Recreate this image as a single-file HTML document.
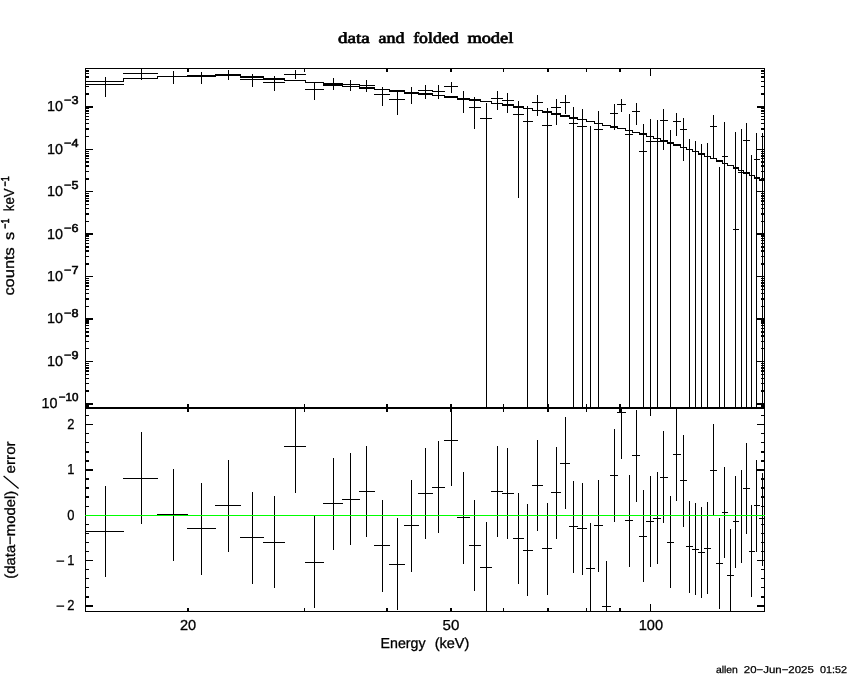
<!DOCTYPE html><html><head><meta charset="utf-8"><title>data and folded model</title><style>html,body{margin:0;padding:0;background:#fff}svg{display:block;will-change:transform}</style></head><body><svg width="850" height="680" viewBox="0 0 850 680" shape-rendering="crispEdges">
<rect x="0" y="0" width="850" height="680" fill="#fff"/>
<path fill="#000" d="M85 81h39v1h-39zM123 78h1v4h-1zM123 78h35v1h-35zM157 76h1v3h-1zM157 76h31v1h-31zM187 75h1v2h-1zM187 75h29v2h-29zM215 74h1v3h-1zM215 74h26v2h-26zM240 74h1v4h-1zM240 76h24v2h-24zM263 76h1v4h-1zM263 78h22v2h-22zM284 78h1v3h-1zM284 80h22v1h-22zM305 80h1v3h-1zM305 82h19v1h-19zM323 82h1v3h-1zM323 83h20v2h-20zM342 83h1v4h-1zM342 86h18v1h-18zM359 86h1v3h-1zM359 87h16v2h-16zM374 87h1v3h-1zM374 89h16v1h-16zM389 89h1v3h-1zM389 90h16v2h-16zM404 90h1v4h-1zM404 92h15v2h-15zM418 92h1v3h-1zM418 93h15v2h-15zM432 93h1v3h-1zM432 95h13v1h-13zM444 95h1v3h-1zM444 96h14v2h-14zM457 96h1v4h-1zM457 98h13v2h-13zM469 98h1v3h-1zM469 99h12v2h-12zM480 99h1v3h-1zM480 101h12v1h-12zM491 101h1v3h-1zM491 103h12v1h-12zM502 103h1v3h-1zM502 104h12v2h-12zM513 104h1v4h-1zM513 106h11v2h-11zM523 106h1v3h-1zM523 108h10v1h-10zM532 108h1v3h-1zM532 110h11v1h-11zM542 110h1v3h-1zM542 111h10v2h-10zM551 111h1v4h-1zM551 113h10v2h-10zM560 113h1v4h-1zM560 115h10v2h-10zM569 115h1v4h-1zM569 117h9v2h-9zM577 117h1v3h-1zM577 119h10v1h-10zM586 119h1v3h-1zM586 121h9v1h-9zM594 121h1v3h-1zM594 123h9v1h-9zM602 123h1v3h-1zM602 125h9v1h-9zM610 125h1v3h-1zM610 126h8v2h-8zM617 126h1v3h-1zM617 128h9v1h-9zM625 128h1v3h-1zM625 130h8v1h-8zM632 130h1v3h-1zM632 132h8v1h-8zM639 132h1v3h-1zM639 133h8v2h-8zM646 133h1v4h-1zM646 136h8v1h-8zM653 136h1v3h-1zM653 138h8v1h-8zM660 138h1v4h-1zM660 140h8v2h-8zM667 140h1v4h-1zM667 142h7v2h-7zM673 142h1v4h-1zM673 144h8v2h-8zM680 144h1v4h-1zM680 147h7v1h-7zM686 147h1v3h-1zM686 149h7v1h-7zM692 149h1v3h-1zM692 151h7v1h-7zM698 151h1v4h-1zM698 153h7v2h-7zM704 153h1v4h-1zM704 156h7v1h-7zM710 156h1v3h-1zM710 158h7v1h-7zM716 158h1v4h-1zM716 160h7v2h-7zM722 160h1v4h-1zM722 163h6v1h-6zM727 163h1v3h-1zM727 165h7v1h-7zM733 165h1v4h-1zM733 167h6v2h-6zM738 167h1v4h-1zM738 170h6v1h-6zM743 170h1v4h-1zM743 172h7v2h-7zM749 172h1v4h-1zM749 175h6v1h-6zM754 175h1v4h-1zM754 177h6v2h-6zM759 177h1v4h-1zM759 179h6v2h-6zM85 84h39v1h-39zM105 77h1v20h-1zM123 73h35v1h-35zM141 68h1v12h-1zM157 76h31v1h-31zM173 71h1v13h-1zM187 75h29v1h-29zM201 72h1v12h-1zM215 74h26v1h-26zM228 70h1v10h-1zM240 79h24v1h-24zM252 74h1v13h-1zM263 82h22v1h-22zM274 76h1v15h-1zM284 74h22v1h-22zM295 70h1v9h-1zM305 89h19v1h-19zM314 82h1v18h-1zM323 85h20v1h-20zM333 78h1v12h-1zM342 84h18v1h-18zM350 80h1v11h-1zM359 85h16v1h-16zM366 80h1v12h-1zM374 94h16v1h-16zM382 87h1v19h-1zM389 99h16v1h-16zM397 92h1v23h-1zM404 93h15v1h-15zM411 87h1v17h-1zM418 90h15v1h-15zM425 85h1v14h-1zM432 91h13v1h-13zM438 85h1v14h-1zM444 86h14v1h-14zM451 82h1v11h-1zM457 98h13v1h-13zM463 91h1v22h-1zM469 107h12v1h-12zM474 97h1v32h-1zM480 118h12v1h-12zM486 103h1v305h-1zM491 98h12v1h-12zM497 91h1v19h-1zM502 100h12v1h-12zM507 93h1v20h-1zM513 114h11v1h-11zM518 101h1v97h-1zM523 121h10v1h-10zM527 106h1v302h-1zM532 102h11v1h-11zM537 95h1v21h-1zM542 125h10v1h-10zM547 108h1v300h-1zM551 107h10v1h-10zM556 99h1v26h-1zM560 102h10v1h-10zM565 95h1v19h-1zM569 123h9v1h-9zM573 107h1v301h-1zM577 126h10v1h-10zM582 109h1v299h-1zM590 126h1v282h-1zM594 129h9v1h-9zM598 111h1v297h-1zM610 113h8v1h-8zM614 104h1v26h-1zM617 104h9v1h-9zM621 99h1v13h-1zM625 134h8v1h-8zM629 114h1v294h-1zM632 111h8v1h-8zM636 103h1v22h-1zM639 151h8v1h-8zM643 124h1v284h-1zM646 141h8v1h-8zM650 119h1v289h-1zM653 141h8v1h-8zM657 120h1v288h-1zM660 120h8v1h-8zM663 109h1v41h-1zM670 130h1v278h-1zM673 121h8v1h-8zM676 113h1v23h-1zM680 129h7v1h-7zM683 118h1v43h-1zM689 139h1v269h-1zM695 141h1v267h-1zM701 144h1v264h-1zM707 143h1v265h-1zM710 126h7v1h-7zM713 115h1v44h-1zM719 167h1v241h-1zM722 156h6v1h-6zM724 122h1v286h-1zM733 229h6v1h-6zM735 132h1v276h-1zM738 172h6v1h-6zM741 129h1v279h-1zM743 140h7v1h-7zM746 123h1v285h-1zM751 155h1v253h-1zM754 159h6v1h-6zM756 133h1v275h-1zM762 133h1v275h-1zM85 531h39v1h-39zM105 486h1v91h-1zM123 478h35v1h-35zM141 432h1v92h-1zM157 514h31v1h-31zM173 469h1v92h-1zM187 528h29v1h-29zM201 483h1v92h-1zM215 505h26v1h-26zM228 460h1v92h-1zM240 537h24v1h-24zM252 492h1v92h-1zM263 542h22v1h-22zM274 496h1v92h-1zM284 446h22v1h-22zM295 408h1v85h-1zM305 562h19v1h-19zM314 516h1v92h-1zM323 503h20v1h-20zM333 458h1v92h-1zM342 499h18v1h-18zM350 453h1v92h-1zM359 491h16v1h-16zM366 446h1v91h-1zM374 545h16v1h-16zM382 500h1v92h-1zM389 564h16v1h-16zM397 518h1v92h-1zM404 525h15v1h-15zM411 480h1v92h-1zM418 493h15v1h-15zM425 448h1v91h-1zM432 487h13v1h-13zM438 441h1v92h-1zM444 440h14v1h-14zM451 408h1v78h-1zM457 517h13v1h-13zM463 472h1v92h-1zM469 545h12v1h-12zM474 500h1v91h-1zM480 567h12v1h-12zM486 522h1v90h-1zM491 491h12v1h-12zM497 446h1v91h-1zM502 493h12v1h-12zM507 448h1v91h-1zM513 538h11v1h-11zM518 493h1v91h-1zM523 550h10v1h-10zM527 504h1v92h-1zM532 485h11v1h-11zM537 440h1v91h-1zM542 548h10v1h-10zM547 503h1v92h-1zM551 492h10v1h-10zM556 447h1v92h-1zM560 463h10v1h-10zM565 417h1v92h-1zM569 526h9v1h-9zM573 481h1v92h-1zM577 528h10v1h-10zM582 483h1v92h-1zM586 568h9v1h-9zM590 523h1v89h-1zM594 525h9v1h-9zM598 480h1v92h-1zM602 606h9v1h-9zM606 561h1v51h-1zM610 475h8v1h-8zM614 429h1v93h-1zM617 412h9v1h-9zM621 408h1v51h-1zM625 520h8v1h-8zM629 475h1v92h-1zM632 455h8v1h-8zM636 410h1v92h-1zM639 536h8v1h-8zM643 490h1v92h-1zM646 521h8v1h-8zM650 476h1v91h-1zM653 518h8v1h-8zM657 472h1v92h-1zM660 477h8v1h-8zM663 431h1v92h-1zM667 542h7v1h-7zM670 496h1v92h-1zM673 454h8v1h-8zM676 408h1v93h-1zM680 480h7v1h-7zM683 435h1v92h-1zM686 546h7v1h-7zM689 501h1v92h-1zM692 549h7v1h-7zM695 503h1v92h-1zM698 552h7v1h-7zM701 507h1v91h-1zM704 548h7v1h-7zM707 502h1v92h-1zM710 470h7v1h-7zM713 424h1v92h-1zM716 563h7v1h-7zM719 518h1v91h-1zM722 512h6v1h-6zM724 467h1v91h-1zM727 575h7v1h-7zM730 529h1v83h-1zM733 521h6v1h-6zM735 476h1v92h-1zM738 515h6v1h-6zM741 470h1v93h-1zM743 488h7v1h-7zM746 443h1v91h-1zM749 551h6v1h-6zM751 505h1v92h-1zM754 505h6v1h-6zM756 460h1v92h-1zM759 518h6v1h-6zM762 473h1v93h-1zM85 68h680v1h-680zM85 407h680v1h-680zM85 408h680v1h-680zM85 611h680v1h-680zM85 68h1v544h-1zM764 68h1v544h-1zM187 69h2v3h-2zM187 404h2v3h-2zM187 409h2v3h-2zM187 608h2v3h-2zM304 69h1v3h-1zM304 404h1v3h-1zM304 409h1v3h-1zM304 608h1v3h-1zM386 69h2v3h-2zM386 404h2v3h-2zM386 409h2v3h-2zM386 608h2v3h-2zM450 69h2v3h-2zM450 404h2v3h-2zM450 409h2v3h-2zM450 608h2v3h-2zM503 69h1v3h-1zM503 404h1v3h-1zM503 409h1v3h-1zM503 608h1v3h-1zM547 69h2v3h-2zM547 404h2v3h-2zM547 409h2v3h-2zM547 608h2v3h-2zM586 69h1v3h-1zM586 404h1v3h-1zM586 409h1v3h-1zM586 608h1v3h-1zM619 69h2v3h-2zM619 404h2v3h-2zM619 409h2v3h-2zM619 608h2v3h-2zM650 69h1v7h-1zM650 400h1v7h-1zM650 409h1v7h-1zM650 604h1v7h-1zM86 106h7v2h-7zM757 106h7v2h-7zM86 93h3v2h-3zM761 93h3v2h-3zM86 86h3v1h-3zM761 86h3v1h-3zM86 81h3v1h-3zM761 81h3v1h-3zM86 76h3v2h-3zM761 76h3v2h-3zM86 73h3v1h-3zM761 73h3v1h-3zM86 70h3v2h-3zM761 70h3v2h-3zM86 149h7v1h-7zM757 149h7v1h-7zM86 136h3v1h-3zM761 136h3v1h-3zM86 128h3v2h-3zM761 128h3v2h-3zM86 123h3v1h-3zM761 123h3v1h-3zM86 119h3v1h-3zM761 119h3v1h-3zM86 116h3v1h-3zM761 116h3v1h-3zM86 113h3v1h-3zM761 113h3v1h-3zM86 110h3v2h-3zM761 110h3v2h-3zM86 108h3v1h-3zM761 108h3v1h-3zM86 191h7v1h-7zM757 191h7v1h-7zM86 178h3v2h-3zM761 178h3v2h-3zM86 171h3v1h-3zM761 171h3v1h-3zM86 165h3v2h-3zM761 165h3v2h-3zM86 161h3v2h-3zM761 161h3v2h-3zM86 158h3v1h-3zM761 158h3v1h-3zM86 155h3v2h-3zM761 155h3v2h-3zM86 153h3v1h-3zM761 153h3v1h-3zM86 151h3v1h-3zM761 151h3v1h-3zM86 233h7v2h-7zM757 233h7v2h-7zM86 221h3v1h-3zM761 221h3v1h-3zM86 213h3v2h-3zM761 213h3v2h-3zM86 208h3v1h-3zM761 208h3v1h-3zM86 204h3v1h-3zM761 204h3v1h-3zM86 200h3v2h-3zM761 200h3v2h-3zM86 198h3v1h-3zM761 198h3v1h-3zM86 195h3v2h-3zM761 195h3v2h-3zM86 193h3v1h-3zM761 193h3v1h-3zM86 276h7v1h-7zM757 276h7v1h-7zM86 263h3v2h-3zM761 263h3v2h-3zM86 256h3v1h-3zM761 256h3v1h-3zM86 250h3v2h-3zM761 250h3v2h-3zM86 246h3v2h-3zM761 246h3v2h-3zM86 243h3v1h-3zM761 243h3v1h-3zM86 240h3v1h-3zM761 240h3v1h-3zM86 238h3v1h-3zM761 238h3v1h-3zM86 235h3v2h-3zM761 235h3v2h-3zM86 318h7v2h-7zM757 318h7v2h-7zM86 306h3v1h-3zM761 306h3v1h-3zM86 298h3v2h-3zM761 298h3v2h-3zM86 293h3v1h-3zM761 293h3v1h-3zM86 289h3v1h-3zM761 289h3v1h-3zM86 285h3v2h-3zM761 285h3v2h-3zM86 282h3v2h-3zM761 282h3v2h-3zM86 280h3v1h-3zM761 280h3v1h-3zM86 278h3v1h-3zM761 278h3v1h-3zM86 361h7v1h-7zM757 361h7v1h-7zM86 348h3v1h-3zM761 348h3v1h-3zM86 341h3v1h-3zM761 341h3v1h-3zM86 335h3v2h-3zM761 335h3v2h-3zM86 331h3v2h-3zM761 331h3v2h-3zM86 328h3v1h-3zM761 328h3v1h-3zM86 325h3v1h-3zM761 325h3v1h-3zM86 322h3v2h-3zM761 322h3v2h-3zM86 320h3v2h-3zM761 320h3v2h-3zM86 403h7v2h-7zM757 403h7v2h-7zM86 390h3v2h-3zM761 390h3v2h-3zM86 383h3v1h-3zM761 383h3v1h-3zM86 378h3v1h-3zM761 378h3v1h-3zM86 374h3v1h-3zM761 374h3v1h-3zM86 370h3v2h-3zM761 370h3v2h-3zM86 367h3v2h-3zM761 367h3v2h-3zM86 365h3v1h-3zM761 365h3v1h-3zM86 363h3v1h-3zM761 363h3v1h-3zM86 405h3v2h-3zM761 405h3v2h-3zM86 605h7v2h-7zM757 605h7v2h-7zM86 596h3v2h-3zM761 596h3v2h-3zM86 587h3v1h-3zM761 587h3v1h-3zM86 578h3v1h-3zM761 578h3v1h-3zM86 569h3v1h-3zM761 569h3v1h-3zM86 560h7v1h-7zM757 560h7v1h-7zM86 551h3v1h-3zM761 551h3v1h-3zM86 542h3v1h-3zM761 542h3v1h-3zM86 533h3v1h-3zM761 533h3v1h-3zM86 524h3v1h-3zM761 524h3v1h-3zM86 515h7v1h-7zM757 515h7v1h-7zM86 506h3v1h-3zM761 506h3v1h-3zM86 496h3v2h-3zM761 496h3v2h-3zM86 487h3v2h-3zM761 487h3v2h-3zM86 478h3v2h-3zM761 478h3v2h-3zM86 469h7v2h-7zM757 469h7v2h-7zM86 460h3v2h-3zM761 460h3v2h-3zM86 451h3v2h-3zM761 451h3v2h-3zM86 442h3v1h-3zM761 442h3v1h-3zM86 433h3v1h-3zM761 433h3v1h-3zM86 424h7v1h-7zM757 424h7v1h-7zM86 415h3v1h-3zM761 415h3v1h-3z"/>
<path fill="#00ff00" d="M85 515h680v1h-680z"/>
<g fill="#000" stroke="#000" stroke-width="0.3" text-rendering="geometricPrecision">
<text x="338" y="43" font-family='"Liberation Serif", serif' font-size="15.5" font-weight="normal" text-anchor="start" textLength="31.7" lengthAdjust="spacingAndGlyphs" stroke-width="0.7">data</text>
<text x="378.6" y="43" font-family='"Liberation Serif", serif' font-size="15.5" font-weight="normal" text-anchor="start" textLength="26" lengthAdjust="spacingAndGlyphs" stroke-width="0.7">and</text>
<text x="413.2" y="43" font-family='"Liberation Serif", serif' font-size="15.5" font-weight="normal" text-anchor="start" textLength="45.4" lengthAdjust="spacingAndGlyphs" stroke-width="0.7">folded</text>
<text x="467.4" y="43" font-family='"Liberation Serif", serif' font-size="15.5" font-weight="normal" text-anchor="start" textLength="45.9" lengthAdjust="spacingAndGlyphs" stroke-width="0.7">model</text>
<text x="64.1" y="104.2" font-family='"Liberation Sans", sans-serif' font-size="11.5" font-weight="normal" text-anchor="start" textLength="14.4" lengthAdjust="spacingAndGlyphs" stroke-width="0.55">−3</text>
<text x="46.89999999999999" y="111.1" font-family='"Liberation Sans", sans-serif' font-size="14.5" font-weight="normal" text-anchor="start" textLength="16" lengthAdjust="spacingAndGlyphs">10</text>
<text x="64.1" y="146.7" font-family='"Liberation Sans", sans-serif' font-size="11.5" font-weight="normal" text-anchor="start" textLength="14.4" lengthAdjust="spacingAndGlyphs" stroke-width="0.55">−4</text>
<text x="46.89999999999999" y="153.6" font-family='"Liberation Sans", sans-serif' font-size="14.5" font-weight="normal" text-anchor="start" textLength="16" lengthAdjust="spacingAndGlyphs">10</text>
<text x="64.1" y="189.1" font-family='"Liberation Sans", sans-serif' font-size="11.5" font-weight="normal" text-anchor="start" textLength="14.4" lengthAdjust="spacingAndGlyphs" stroke-width="0.55">−5</text>
<text x="46.89999999999999" y="196.0" font-family='"Liberation Sans", sans-serif' font-size="14.5" font-weight="normal" text-anchor="start" textLength="16" lengthAdjust="spacingAndGlyphs">10</text>
<text x="64.1" y="231.6" font-family='"Liberation Sans", sans-serif' font-size="11.5" font-weight="normal" text-anchor="start" textLength="14.4" lengthAdjust="spacingAndGlyphs" stroke-width="0.55">−6</text>
<text x="46.89999999999999" y="238.5" font-family='"Liberation Sans", sans-serif' font-size="14.5" font-weight="normal" text-anchor="start" textLength="16" lengthAdjust="spacingAndGlyphs">10</text>
<text x="64.1" y="274.0" font-family='"Liberation Sans", sans-serif' font-size="11.5" font-weight="normal" text-anchor="start" textLength="14.4" lengthAdjust="spacingAndGlyphs" stroke-width="0.55">−7</text>
<text x="46.89999999999999" y="280.9" font-family='"Liberation Sans", sans-serif' font-size="14.5" font-weight="normal" text-anchor="start" textLength="16" lengthAdjust="spacingAndGlyphs">10</text>
<text x="64.1" y="316.5" font-family='"Liberation Sans", sans-serif' font-size="11.5" font-weight="normal" text-anchor="start" textLength="14.4" lengthAdjust="spacingAndGlyphs" stroke-width="0.55">−8</text>
<text x="46.89999999999999" y="323.4" font-family='"Liberation Sans", sans-serif' font-size="14.5" font-weight="normal" text-anchor="start" textLength="16" lengthAdjust="spacingAndGlyphs">10</text>
<text x="64.1" y="358.9" font-family='"Liberation Sans", sans-serif' font-size="11.5" font-weight="normal" text-anchor="start" textLength="14.4" lengthAdjust="spacingAndGlyphs" stroke-width="0.55">−9</text>
<text x="46.89999999999999" y="365.8" font-family='"Liberation Sans", sans-serif' font-size="14.5" font-weight="normal" text-anchor="start" textLength="16" lengthAdjust="spacingAndGlyphs">10</text>
<text x="58.8" y="401.4" font-family='"Liberation Sans", sans-serif' font-size="11.5" font-weight="normal" text-anchor="start" textLength="19.7" lengthAdjust="spacingAndGlyphs" stroke-width="0.55">−10</text>
<text x="41.599999999999994" y="408.3" font-family='"Liberation Sans", sans-serif' font-size="14.5" font-weight="normal" text-anchor="start" textLength="16" lengthAdjust="spacingAndGlyphs">10</text>
<text x="67.2" y="429.0" font-family='"Liberation Sans", sans-serif' font-size="14.5" font-weight="normal" text-anchor="start" textLength="7.2" lengthAdjust="spacingAndGlyphs">2</text>
<text x="67.2" y="474.3" font-family='"Liberation Sans", sans-serif' font-size="14.5" font-weight="normal" text-anchor="start" textLength="7.2" lengthAdjust="spacingAndGlyphs">1</text>
<text x="67.2" y="519.6" font-family='"Liberation Sans", sans-serif' font-size="14.5" font-weight="normal" text-anchor="start" textLength="7.2" lengthAdjust="spacingAndGlyphs">0</text>
<text x="67.2" y="564.9" font-family='"Liberation Sans", sans-serif' font-size="14.5" font-weight="normal" text-anchor="start" textLength="7.2" lengthAdjust="spacingAndGlyphs">1</text>
<text x="56" y="566.1" font-family='"Liberation Sans", sans-serif' font-size="14.5" font-weight="normal" text-anchor="start" textLength="8.7" lengthAdjust="spacingAndGlyphs">−</text>
<text x="67.2" y="610.2" font-family='"Liberation Sans", sans-serif' font-size="14.5" font-weight="normal" text-anchor="start" textLength="7.2" lengthAdjust="spacingAndGlyphs">2</text>
<text x="56" y="611.4" font-family='"Liberation Sans", sans-serif' font-size="14.5" font-weight="normal" text-anchor="start" textLength="8.7" lengthAdjust="spacingAndGlyphs">−</text>
<text x="180" y="629.6" font-family='"Liberation Sans", sans-serif' font-size="14.5" font-weight="normal" text-anchor="start" textLength="16.2" lengthAdjust="spacingAndGlyphs">20</text>
<text x="442.5" y="629.6" font-family='"Liberation Sans", sans-serif' font-size="14.5" font-weight="normal" text-anchor="start" textLength="16.8" lengthAdjust="spacingAndGlyphs">50</text>
<text x="638.7" y="629.6" font-family='"Liberation Sans", sans-serif' font-size="14.5" font-weight="normal" text-anchor="start" textLength="24.3" lengthAdjust="spacingAndGlyphs">100</text>
<text x="380.6" y="647.5" font-family='"Liberation Sans", sans-serif' font-size="14.5" font-weight="normal" text-anchor="start" textLength="45" lengthAdjust="spacingAndGlyphs">Energy</text>
<text x="434.7" y="647.5" font-family='"Liberation Sans", sans-serif' font-size="14.5" font-weight="normal" text-anchor="start" textLength="34.7" lengthAdjust="spacingAndGlyphs">(keV)</text>
<text x="715.9" y="673" font-family='"Liberation Sans", sans-serif' font-size="10" font-weight="normal" text-anchor="start" textLength="22" lengthAdjust="spacingAndGlyphs" stroke-width="0.25">allen</text>
<text x="743.8" y="673" font-family='"Liberation Sans", sans-serif' font-size="10" font-weight="normal" text-anchor="start" textLength="70" lengthAdjust="spacingAndGlyphs" stroke-width="0.25">20−Jun−2025</text>
<text x="820" y="673" font-family='"Liberation Sans", sans-serif' font-size="10" font-weight="normal" text-anchor="start" textLength="27" lengthAdjust="spacingAndGlyphs" stroke-width="0.25">01:52</text>
<text transform="translate(14,295.6) rotate(-90)" x="0" y="0" font-family='"Liberation Sans", sans-serif' font-size="14.5" textLength="48.4" lengthAdjust="spacingAndGlyphs">counts</text>
<text transform="translate(14,240.00000000000003) rotate(-90)" x="0" y="0" font-family='"Liberation Sans", sans-serif' font-size="14.5" textLength="8.2" lengthAdjust="spacingAndGlyphs">s</text>
<text transform="translate(8.7,228.70000000000002) rotate(-90)" x="0" y="0" font-family='"Liberation Sans", sans-serif' font-size="11.5" textLength="10.3" lengthAdjust="spacingAndGlyphs" stroke-width="0.55">−1</text>
<text transform="translate(14,211.20000000000002) rotate(-90)" x="0" y="0" font-family='"Liberation Sans", sans-serif' font-size="14.5" textLength="22.7" lengthAdjust="spacingAndGlyphs">keV</text>
<text transform="translate(8.7,186.50000000000003) rotate(-90)" x="0" y="0" font-family='"Liberation Sans", sans-serif' font-size="11.5" textLength="10.3" lengthAdjust="spacingAndGlyphs" stroke-width="0.55">−1</text>
<text transform="translate(14.6,578.7) rotate(-90)" x="0" y="0" font-family='"Liberation Sans", sans-serif' font-size="14.5" textLength="88" lengthAdjust="spacingAndGlyphs">(data−model)</text>
<line x1="18.6" y1="488.6" x2="3.6" y2="476" stroke="#000" stroke-width="1.25" shape-rendering="auto"/>
<text transform="translate(14.6,473.5) rotate(-90)" x="0" y="0" font-family='"Liberation Sans", sans-serif' font-size="14.5" textLength="32.2" lengthAdjust="spacingAndGlyphs">error</text>
</g></svg></body></html>
